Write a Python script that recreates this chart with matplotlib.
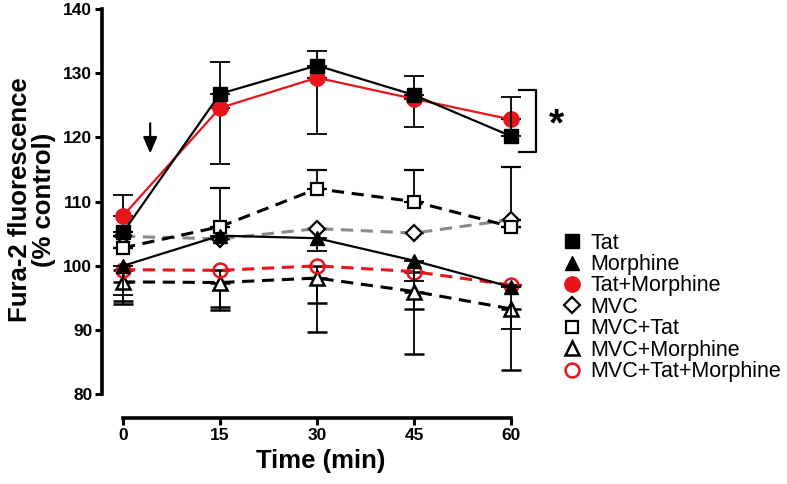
import matplotlib
matplotlib.use("Agg")
import matplotlib.pyplot as plt
from matplotlib.lines import Line2D

plt.rcParams['font.family'] = ['Liberation Sans', 'DejaVu Sans']

time = [0, 15, 30, 45, 60]
xticks = [0, 15, 30, 45, 60]
yticks = [80, 90, 100, 110, 120, 130, 140]

tat = [105.2, 126.8, 131.2, 126.6, 120.2]
tat_lo = [0, 0, 0, 0, 0]
tat_hi = [0, 5.0, 2.3, 3.0, 6.1]

morphine = [100.0, 104.7, 104.3, 100.8, 96.7]
morphine_lo = [4.5, 0, 2.0, 3.1, 6.5]
morphine_hi = [0, 0, 0, 0, 0]

tat_morphine = [107.8, 124.6, 129.3, 126.0, 122.8]
tat_morphine_lo = [0, 8.7, 8.7, 4.3, 0]
tat_morphine_hi = [3.3, 0, 0, 0, 0]

mvc = [104.6, 104.2, 105.8, 105.1, 107.2]
mvc_lo = [0, 0, 0, 0, 0]
mvc_hi = [0, 0, 0, 0, 8.2]

mvc_tat = [102.8, 106.1, 112.0, 110.0, 106.1]
mvc_tat_lo = [0, 0, 0, 0, 0]
mvc_tat_hi = [0, 6.0, 2.9, 4.9, 0]

mvc_morphine = [97.5, 97.4, 98.1, 96.0, 93.3]
mvc_morphine_lo = [2.9, 3.8, 8.4, 9.8, 9.5]
mvc_morphine_hi = [0, 0, 0, 0, 0]

mvc_tat_morphine = [99.4, 99.3, 100.0, 99.1, 97.0]
mvc_tat_morphine_lo = [5.4, 6.2, 5.8, 5.9, 0]
mvc_tat_morphine_hi = [0, 0, 0, 0, 0]

RED = '#e8141b'
GRAY = '#8a8a8a'

fig = plt.figure(figsize=(7.87, 4.84), dpi=100)
ax = fig.add_axes([102/787, 66/484, 422/787, 412.2/484])

common = dict(capsize=7, elinewidth=1.3, capthick=1.3, ecolor='black')

def series(y, lo, hi, label, **kw):
    ax.errorbar(time, y, yerr=[lo, hi], label=label, **common, **kw)

series(mvc_morphine, mvc_morphine_lo, mvc_morphine_hi, 'MVC+Morphine', color='black', ls=(0, (4, 2.5)), lw=2.2,
       marker='^', ms=10, mfc='white', mec='black', mew=1.8, zorder=3)
series(mvc_tat_morphine, mvc_tat_morphine_lo, mvc_tat_morphine_hi, 'MVC+Tat+Morphine', color=RED, ls=(0, (4, 2.5)), lw=2.2,
       marker='o', ms=10, mfc='none', mec=RED, mew=1.8, zorder=3)
series(morphine, morphine_lo, morphine_hi, 'Morphine', color='black', ls='-', lw=1.6,
       marker='^', ms=10, mfc='black', mec='black', zorder=4)
series(mvc, mvc_lo, mvc_hi, 'MVC', color=GRAY, ls=(0, (4, 2.5)), lw=2.2,
       marker='D', ms=8, mfc='white', mec='black', mew=1.6, zorder=3)
series(mvc_tat, mvc_tat_lo, mvc_tat_hi, 'MVC+Tat', color='black', ls=(0, (4, 2.5)), lw=2.2,
       marker='s', ms=9, mfc='white', mec='black', mew=1.6, zorder=3)
series(tat_morphine, tat_morphine_lo, tat_morphine_hi, 'Tat+Morphine', color=RED, ls='-', lw=1.6,
       marker='o', ms=11, mfc=RED, mec=RED, zorder=5)
series(tat, tat_lo, tat_hi, 'Tat', color='black', ls='-', lw=1.6,
       marker='s', ms=10, mfc='black', mec='black', zorder=6)

ax.set_xlim(-3.25, 62)
ax.set_ylim(76.3, 140.5)
ax.set_xticks(xticks)
ax.set_yticks(yticks)
for s in ['top', 'right']:
    ax.spines[s].set_visible(False)
ax.spines['left'].set_bounds(80, 140)
ax.spines['bottom'].set_bounds(0, 60)
ax.spines['left'].set_linewidth(2.6)
ax.spines['bottom'].set_linewidth(2.6)
ax.tick_params(width=2.2, length=5, labelsize=12.5, pad=2)
for lab in ax.get_xticklabels() + ax.get_yticklabels():
    lab.set_fontweight('bold')
ax.set_xlabel('Time (min)', fontsize=18.5, fontweight='bold')
ax.xaxis.set_label_coords((321 - 102) / 422, -0.075)
ax.set_ylabel('Fura-2 fluorescence\n(% control)', fontsize=18.5, fontweight='bold', linespacing=1.0)
ax.yaxis.set_label_coords((56 - 102) / 422, (418 - 200) / 412.2)

# arrow
ax.annotate('', xy=(4.2, 117.5), xytext=(4.2, 122.2),
            arrowprops=dict(arrowstyle='-|>,head_length=0.7,head_width=0.3', color='black', lw=1.6,
                            mutation_scale=14, shrinkA=0, shrinkB=0))

# significance bracket
ax.plot([63.8 - 2.5, 63.8, 63.8, 63.8 - 2.5], [127.4, 127.4, 117.8, 117.8],
        color='black', lw=1.6, clip_on=False)
ax.text(67.0, 121.8, '*', fontsize=28, fontweight='bold', ha='center', va='center', clip_on=False)

handles, labels = ax.get_legend_handles_labels()
order = ['Tat', 'Morphine', 'Tat+Morphine', 'MVC', 'MVC+Tat', 'MVC+Morphine', 'MVC+Tat+Morphine']
hmap = dict(zip(labels, handles))
leg_handles = []
for name in order:
    h = hmap[name][0]
    leg_handles.append(Line2D([], [], ls='none', marker=h.get_marker(), ms=h.get_markersize(),
                              mfc=h.get_markerfacecolor(), mec=h.get_markeredgecolor(),
                              mew=h.get_markeredgewidth()))
fig.legend(leg_handles, order, loc='upper left', bbox_to_anchor=(555/787, 1 - 224/484),
           frameon=False, fontsize=15.5, handlelength=0.8, handletextpad=0.45, labelspacing=0.02,
           borderaxespad=0)

fig.savefig('out.png', dpi=100)
